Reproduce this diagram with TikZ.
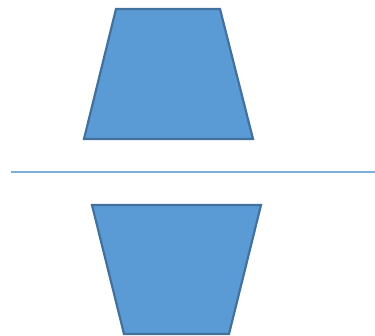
\documentclass[tikz,border=0pt]{standalone}
\definecolor{fillblue}{HTML}{5B9BD5}
\definecolor{edgeblue}{HTML}{41719C}
\definecolor{lineblue}{HTML}{7EAEDC}
\begin{document}
\begin{tikzpicture}[x=1pt,y=-1pt,
  trap/.style={fill=fillblue,draw=edgeblue,line width=2.2pt,line join=miter},
  divider/.style={draw=lineblue,line width=1.2pt}]
\useasboundingbox (0,0) rectangle (375,335);
\draw[trap] (116,9) -- (220,9) -- (253,139) -- (84,139) -- cycle;
\coordinate (l) at (11,172);
\coordinate (r) at (375,172);
\draw[divider] (l) -- (r);
\draw[trap] (92,205) -- (261,205) -- (229,334) -- (124,334) -- cycle;
\end{tikzpicture}
\end{document}
